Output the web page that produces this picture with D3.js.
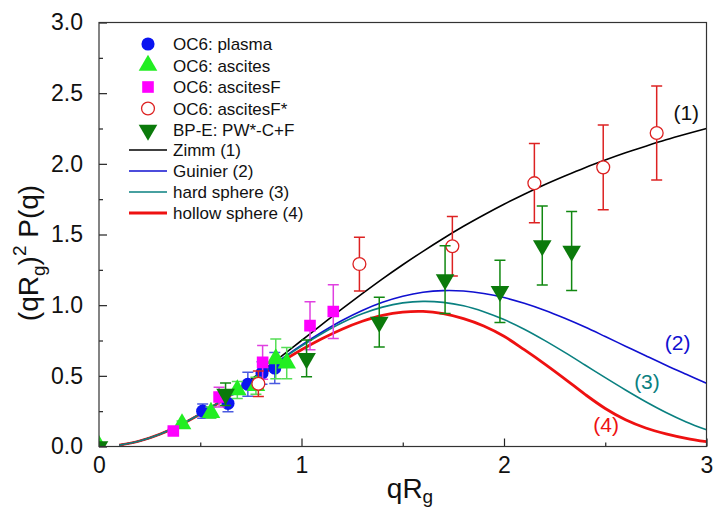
<!DOCTYPE html>
<html>
<head>
<meta charset="utf-8">
<script src="https://d3js.org/d3.v7.min.js"></script>
<style>
  body { margin: 0; background: #fff; }
  svg { display: block; font-family: "Liberation Sans", Arial, sans-serif; }
</style>
</head>
<body>
<script>
"use strict";

// model curves, every 0.1 in qRg
var qGrid = [0.1,0.2,0.3,0.4,0.5,0.6,0.7,0.8,0.9,1.0,1.1,1.2,1.3,1.4,1.5,1.6,1.7,1.8,1.9,2.0,
             2.1,2.2,2.3,2.4,2.5,2.6,2.7,2.8,2.9,3.0];
var zimmY    = [0.010,0.039,0.087,0.152,0.231,0.321,0.421,0.528,0.638,0.750,0.862,0.973,1.081,1.186,1.286,
                1.381,1.472,1.558,1.638,1.714,1.785,1.852,1.914,1.973,2.027,2.078,2.125,2.170,2.211,2.250];
var guinierY = [0.010,0.039,0.087,0.152,0.230,0.319,0.416,0.517,0.618,0.717,0.808,0.891,0.962,1.020,1.063,
                1.091,1.103,1.100,1.083,1.054,1.013,0.964,0.907,0.845,0.778,0.710,0.642,0.575,0.511,0.448];
var hardY    = [0.010,0.039,0.087,0.152,0.230,0.319,0.415,0.515,0.615,0.711,0.798,0.875,0.939,0.986,1.016,
                1.027,1.020,0.996,0.954,0.898,0.830,0.751,0.666,0.577,0.487,0.400,0.317,0.241,0.174,0.118];
var hollowY  = [0.010,0.039,0.087,0.151,0.229,0.317,0.411,0.506,0.598,0.684,0.762,0.830,0.886,0.928,0.951,
                0.956,0.940,0.905,0.853,0.780,0.685,0.585,0.479,0.369,0.269,0.189,0.131,0.090,0.058,0.034];

// measured points: x, y, error
var plasmaX = [0.512, 0.637, 0.735, 0.805, 0.868];
var plasmaY = [0.250, 0.305, 0.440, 0.520, 0.555];
var plasmaE = [0.05, 0.06, 0.085, 0.08, 0.11];

var ascitesX = [0.0, 0.41, 0.553, 0.683, 0.775, 0.873, 0.927];
var ascitesY = [0.005, 0.16, 0.24, 0.40, 0.43, 0.62, 0.59];
var ascitesE = [0, 0.02, 0.04, 0.06, 0.06, 0.14, 0.11];

var ascFX = [0.367, 0.593, 0.808, 1.042, 1.157];
var ascFY = [0.110, 0.350, 0.595, 0.855, 0.955];
var ascFE = [0.02, 0.07, 0.12, 0.17, 0.19];

var ascFsX = [0.787, 1.286, 1.745, 2.150, 2.490, 2.754];
var ascFsY = [0.444, 1.291, 1.417, 1.863, 1.975, 2.218];
var ascFsE = [0.09, 0.19, 0.21, 0.28, 0.30, 0.333];

var bpeX = [0.0, 0.625, 1.025, 1.384, 1.709, 1.980, 2.189, 2.334];
var bpeY = [0.0, 0.370, 0.623, 0.880, 1.181, 1.098, 1.422, 1.383];
var bpeE = [0, 0.08, 0.13, 0.176, 0.24, 0.22, 0.28, 0.28];

var xTicks = [0, 1, 2, 3];
var xMinor = [0.5, 1.5, 2.5];
var yTicks = [0, 0.5, 1.0, 1.5, 2.0, 2.5, 3.0];
var yMinor = [0.25, 0.75, 1.25, 1.75, 2.25, 2.75];

var width = 713, height = 508;
var margin = {top: 22.5, right: 6.5, bottom: 61.5, left: 99};

var svg = d3.select("body").append("svg")
    .attr("width", width)
    .attr("height", height);

var x = d3.scaleLinear().domain([0, 3]).range([margin.left, width - margin.right]);
var y = d3.scaleLinear().domain([0, 3]).range([height - margin.bottom, margin.top]);

svg.append("clipPath").attr("id", "plotclip")
  .append("rect")
    .attr("x", x(0)).attr("y", y(3))
    .attr("width", x(3) - x(0)).attr("height", y(0) - y(3));

// axes with inward ticks
var gx = svg.append("g")
    .attr("transform", "translate(0," + y(0) + ")")
    .call(d3.axisBottom(x).tickValues(xTicks).tickFormat(d3.format("d"))
          .tickSizeInner(-8).tickSizeOuter(0).tickPadding(10));
var gxm = svg.append("g")
    .attr("transform", "translate(0," + y(0) + ")")
    .call(d3.axisBottom(x).tickValues(xMinor).tickFormat("")
          .tickSizeInner(-4).tickSizeOuter(0));
var gy = svg.append("g")
    .attr("transform", "translate(" + x(0) + ",0)")
    .call(d3.axisLeft(y).tickValues(yTicks).tickFormat(d3.format(".1f"))
          .tickSizeInner(-8).tickSizeOuter(0).tickPadding(16));
var gym = svg.append("g")
    .attr("transform", "translate(" + x(0) + ",0)")
    .call(d3.axisLeft(y).tickValues(yMinor).tickFormat("")
          .tickSizeInner(-4).tickSizeOuter(0));

[gx, gxm, gy, gym].forEach(function(g) {
    g.select(".domain").remove();
    g.selectAll("line").attr("stroke", "#222").attr("stroke-width", 1.2);
    g.selectAll("text").attr("font-size", 23).attr("fill", "#111")
        .style("font-family", "'Liberation Sans', Arial, sans-serif");
});

// model curves
var curves = [
    {ys: zimmY, color: "#000000", w: 1.6, name: "Zimm (1)"},
    {ys: guinierY, color: "#1010d0", w: 1.6, name: "Guinier (2)"},
    {ys: hardY, color: "#0a8080", w: 1.6, name: "hard sphere (3)"},
    {ys: hollowY, color: "#ee1111", w: 2.8, name: "hollow sphere (4)"}
];
var line = d3.line()
    .x(function(d) { return x(d[0]); })
    .y(function(d) { return y(d[1]); })
    .curve(d3.curveCatmullRom);

// thick red goes underneath so the thinner lines stay visible where they overlap
var drawOrder = [curves[0], curves[1], curves[3], curves[2]];
svg.append("g")
  .selectAll("path").data(drawOrder).enter().append("path")
    .attr("d", function(c) { return line(qGrid.map(function(q, i) { return [q, c.ys[i]]; })); })
    .attr("fill", "none")
    .attr("stroke", function(c) { return c.color; })
    .attr("stroke-width", function(c) { return c.w; });

// data series
var series = [
    {name: "OC6: plasma", xs: plasmaX, ys: plasmaY, es: plasmaE, shape: d3.symbolCircle, size: 135,
     fill: "#0a14f0", stroke: "none", ebar: "#4a5ae0", rot: 0},
    {name: "OC6: ascites", xs: ascitesX, ys: ascitesY, es: ascitesE, shape: d3.symbolTriangle, size: 150,
     fill: "#22ee22", stroke: "none", ebar: "#55dd55", rot: 0},
    {name: "OC6: ascitesF", xs: ascFX, ys: ascFY, es: ascFE, shape: d3.symbolSquare, size: 135,
     fill: "#ff00ff", stroke: "none", ebar: "#e040e0", rot: 0},
    {name: "OC6: ascitesF*", xs: ascFsX, ys: ascFsY, es: ascFsE, shape: d3.symbolCircle, size: 130,
     fill: "#ffffff", stroke: "#dd2222", ebar: "#dd2222", rot: 0},
    {name: "BP-E: PW*-C+F", xs: bpeX, ys: bpeY, es: bpeE, shape: d3.symbolTriangle, size: 150,
     fill: "#0b7a0b", stroke: "none", ebar: "#118811", rot: 180}
];

var cap = 5.5;
var dataLayer = svg.append("g").attr("clip-path", "url(#plotclip)");
series.forEach(function(s) {
    var g = dataLayer.append("g");
    var pts = s.xs.map(function(v, i) { return {x: v, y: s.ys[i], e: s.es[i]}; });
    var eb = g.selectAll(".eb").data(pts.filter(function(p) { return p.e > 0; })).enter().append("g")
        .attr("stroke", s.ebar).attr("stroke-width", 1.5);
    eb.append("line")
        .attr("x1", function(p) { return x(p.x); }).attr("x2", function(p) { return x(p.x); })
        .attr("y1", function(p) { return y(p.y - p.e); }).attr("y2", function(p) { return y(p.y + p.e); });
    eb.append("line")
        .attr("x1", function(p) { return x(p.x) - cap; }).attr("x2", function(p) { return x(p.x) + cap; })
        .attr("y1", function(p) { return y(p.y + p.e); }).attr("y2", function(p) { return y(p.y + p.e); });
    eb.append("line")
        .attr("x1", function(p) { return x(p.x) - cap; }).attr("x2", function(p) { return x(p.x) + cap; })
        .attr("y1", function(p) { return y(p.y - p.e); }).attr("y2", function(p) { return y(p.y - p.e); });

    g.selectAll(".mk").data(pts).enter().append("path")
        .attr("d", d3.symbol().type(s.shape).size(s.size))
        .attr("transform", function(p) {
            return "translate(" + x(p.x) + "," + y(p.y) + ") rotate(" + s.rot + ")";
        })
        .attr("fill", s.fill)
        .attr("stroke", s.stroke)
        .attr("stroke-width", 1.3);
});

// frame
svg.append("rect")
    .attr("x", x(0)).attr("y", y(3))
    .attr("width", x(3) - x(0)).attr("height", y(0) - y(3))
    .attr("fill", "none").attr("stroke", "#333").attr("stroke-width", 1.2);

// legend
var legend = svg.append("g").attr("font-size", 17).attr("fill", "#111");
series.forEach(function(s, i) {
    var ly = 44 + i * 21.5;
    legend.append("path")
        .attr("d", d3.symbol().type(s.shape).size(s.size))
        .attr("transform", "translate(148," + ly + ") rotate(" + s.rot + ")")
        .attr("fill", s.fill).attr("stroke", s.stroke).attr("stroke-width", 1.3);
    legend.append("text").attr("x", 173).attr("y", ly).attr("dy", "0.36em").text(s.name);
});
curves.forEach(function(c, i) {
    var ly = 150 + i * 21;
    legend.append("line")
        .attr("x1", 129).attr("x2", 167).attr("y1", ly).attr("y2", ly)
        .attr("stroke", c.color).attr("stroke-width", c.w);
    legend.append("text").attr("x", 173).attr("y", ly).attr("dy", "0.36em").text(c.name);
});

// curve labels
var curveTags = [
    {t: "(1)", qx: 2.90, qy: 2.365, color: "#111"},
    {t: "(2)", qx: 2.857, qy: 0.733, color: "#1010d0"},
    {t: "(3)", qx: 2.706, qy: 0.461, color: "#0a8080"},
    {t: "(4)", qx: 2.504, qy: 0.154, color: "#ee1111"}
];
svg.append("g").selectAll("text").data(curveTags).enter().append("text")
    .attr("x", function(d) { return x(d.qx); })
    .attr("y", function(d) { return y(d.qy); })
    .attr("dy", "0.35em")
    .attr("text-anchor", "middle")
    .attr("font-size", 21)
    .attr("fill", function(d) { return d.color; })
    .text(function(d) { return d.t; });

// axis titles
var xt = svg.append("text")
    .attr("x", 410).attr("y", 498)
    .attr("text-anchor", "middle")
    .attr("font-size", 28).attr("fill", "#111");
xt.append("tspan").text("qR");
xt.append("tspan").attr("font-size", 19).attr("dy", 5).text("g");

var yt = svg.append("text")
    .attr("transform", "translate(38,253) rotate(-90)")
    .attr("text-anchor", "middle")
    .attr("font-size", 28).attr("fill", "#111");
yt.append("tspan").text("(qR");
yt.append("tspan").attr("font-size", 19).attr("dy", 7).text("g");
yt.append("tspan").attr("dy", -7).text(")");
yt.append("tspan").attr("font-size", 19).attr("dy", -12).text("2");
yt.append("tspan").attr("dy", 12).text(" P(q)");
</script>
</body>
</html>
